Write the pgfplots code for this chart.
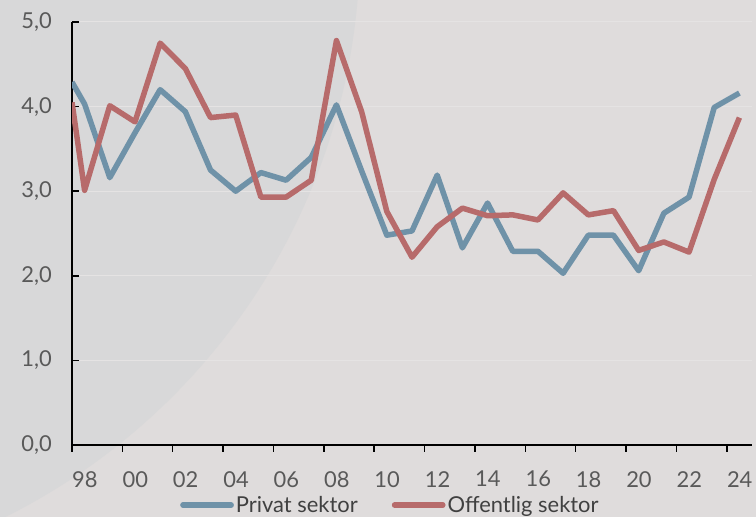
\documentclass[border=0pt]{standalone}
\usepackage{fontspec}
\setmainfont{Lato}
\usepackage{pgfplots}
\pgfplotsset{compat=1.18}
\definecolor{bgc}{RGB}{223,220,220}
\definecolor{circ}{RGB}{216,216,217}
\definecolor{blu}{RGB}{111,146,168}
\definecolor{rd}{RGB}{183,107,107}
\definecolor{tickc}{RGB}{89,89,89}
\definecolor{legc}{RGB}{64,64,64}
\definecolor{grd}{RGB}{229,227,227}
\begin{document}
\begin{tikzpicture}[x=1bp,y=1bp]
\useasboundingbox (0,0) rectangle (756,517);
\fill[bgc] (0,0) rectangle (756,517);
\begin{scope}
\clip (0,0) rectangle (756,517);
\fill[circ] (-280,573) circle[radius=640];
\end{scope}
\begin{axis}[
  at={(72bp,72bp)}, anchor=south west, scale only axis,
  width=680bp, height=423bp,
  xmin=1998, xmax=2025, ymin=0, ymax=5,
  axis x line*=bottom, axis y line*=left,
  axis line style={black, line width=1.5bp, -},
  xtick={1998,2000,...,2024},
  xticklabels={98,00,02,04,06,08,10,12,14,16,18,20,22,24},
  ytick={0,1,2,3,4,5},
  xtick align=outside, ytick align=inside,
  major tick length=7bp,
  tick style={black, line width=1.5bp},
  ymajorgrids, grid style={grd, line width=1bp},
  every tick label/.append style={font=\fontsize{22}{26}\selectfont, text=tickc},
  xticklabel style={anchor=north west, inner sep=0pt, yshift=-19bp},
  yticklabel style={anchor=east, inner sep=0pt, xshift=-20bp,
    /pgf/number format/.cd, fixed, fixed zerofill, precision=1, use comma, assume math mode=true},
  legend columns=2,
  legend style={draw=none, fill=none, at={(0.1588,-0.142)}, anchor=west,
    inner sep=0pt, font=\fontsize{22}{26}\selectfont, text=legc,
    /tikz/every even column/.append style={column sep=32bp}},
  legend image code/.code={\draw[#1, line cap=round] (2.75bp,0bp) -- (51bp,0bp);},
  every axis plot/.append style={line width=5.5bp, line join=round},
  clip=true,
]
\addplot[blu] coordinates {
(1998.0,4.29) (1998.5,4.03) (1999.5,3.16) (2000.5,3.69) (2001.5,4.20)
(2002.5,3.94) (2003.5,3.25) (2004.5,3.00) (2005.5,3.22) (2006.5,3.13)
(2007.5,3.40) (2008.5,4.02) (2009.5,3.24) (2010.5,2.48) (2011.5,2.53)
(2012.5,3.19) (2013.5,2.33) (2014.5,2.86) (2015.5,2.29) (2016.5,2.29)
(2017.5,2.03) (2018.5,2.48) (2019.5,2.48) (2020.5,2.06) (2021.5,2.74)
(2022.5,2.93) (2023.5,3.99) (2024.5,4.16)
};
\addlegendentry{Privat sektor}
\addplot[rd] coordinates {
(1998.0,4.05) (1998.5,3.01) (1999.5,4.01) (2000.5,3.82) (2001.5,4.75)
(2002.5,4.45) (2003.5,3.87) (2004.5,3.90) (2005.5,2.93) (2006.5,2.93)
(2007.5,3.13) (2008.5,4.78) (2009.5,3.94) (2010.5,2.76) (2011.5,2.22)
(2012.5,2.58) (2013.5,2.80) (2014.5,2.71) (2015.5,2.72) (2016.5,2.66)
(2017.5,2.98) (2018.5,2.72) (2019.5,2.77) (2020.5,2.30) (2021.5,2.40)
(2022.5,2.28) (2023.5,3.14) (2024.5,3.87)
};
\addlegendentry{Offentlig sektor}
\end{axis}
\end{tikzpicture}
\end{document}
